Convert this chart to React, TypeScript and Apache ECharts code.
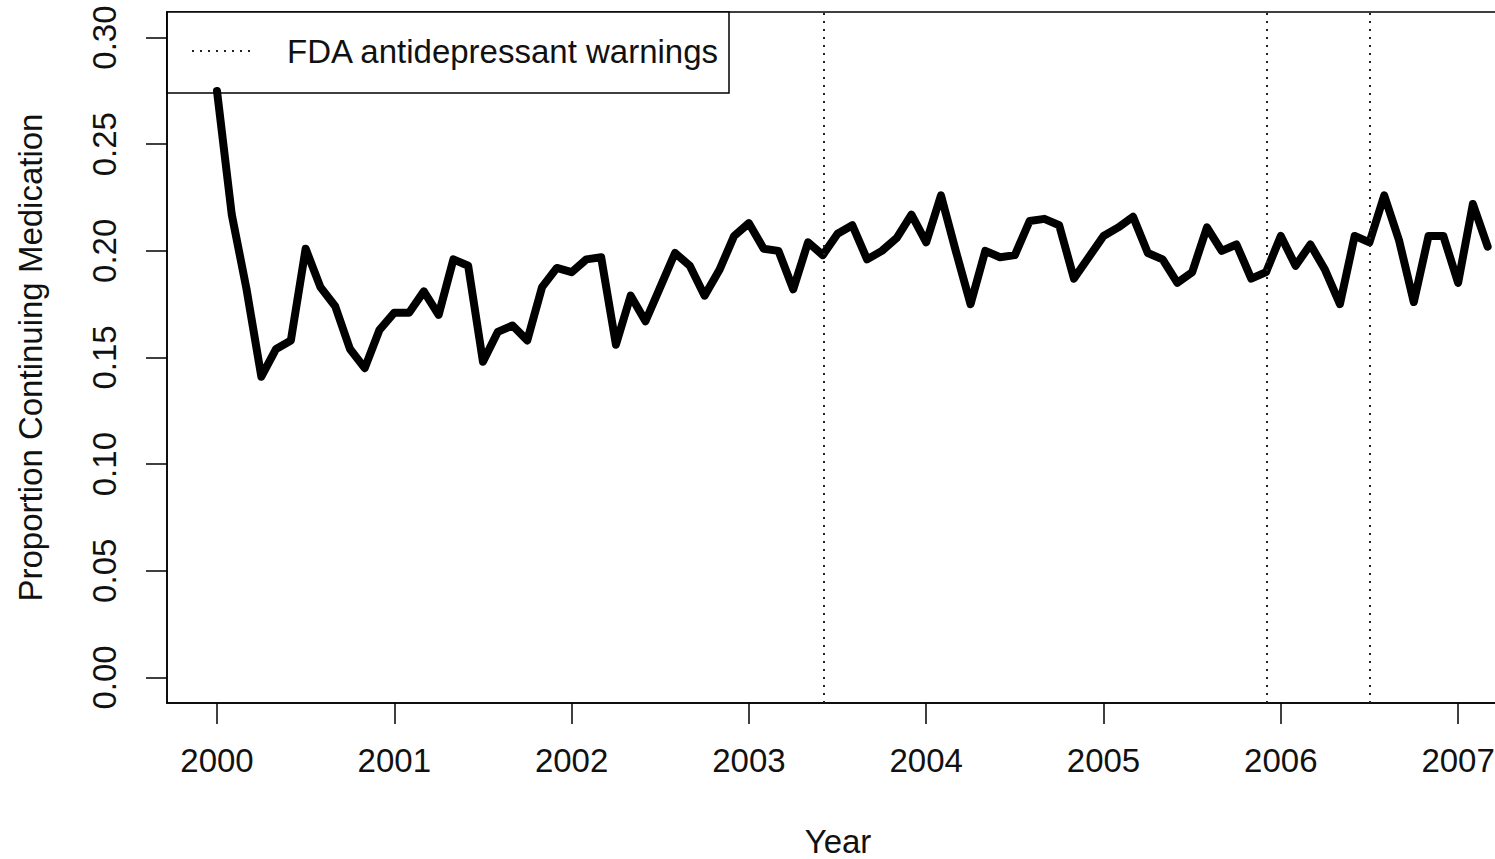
import React, { useEffect, useRef } from "react";
import * as echarts from "echarts";

// Monthly proportion continuing medication, Jan 2000 – Mar 2007
const startYear = 2000;
const proportions: number[] = [
  0.275, 0.217, 0.182, 0.141, 0.154, 0.158, 0.201, 0.183, 0.174, 0.154, 0.145, 0.163,
  0.171, 0.171, 0.181, 0.170, 0.196, 0.193, 0.148, 0.162, 0.165, 0.158, 0.183, 0.192,
  0.190, 0.196, 0.197, 0.156, 0.179, 0.167, 0.183, 0.199, 0.193, 0.179, 0.191, 0.207,
  0.213, 0.201, 0.200, 0.182, 0.204, 0.198, 0.208, 0.212, 0.196, 0.200, 0.206, 0.217,
  0.204, 0.226, 0.200, 0.175, 0.200, 0.197, 0.198, 0.214, 0.215, 0.212, 0.187, 0.197,
  0.207, 0.211, 0.216, 0.199, 0.196, 0.185, 0.190, 0.211, 0.200, 0.203, 0.187, 0.190,
  0.207, 0.193, 0.203, 0.191, 0.175, 0.207, 0.204, 0.226, 0.205, 0.176, 0.207, 0.207,
  0.185, 0.222, 0.202,
];
// FDA antidepressant warnings (decimal years)
const warningDates: number[] = [2003 + 5 / 12, 2005 + 11 / 12, 2006.5];
const xTicks: number[] = [2000, 2001, 2002, 2003, 2004, 2005, 2006, 2007];
const yTicks: number[] = [0, 0.05, 0.1, 0.15, 0.2, 0.25, 0.3];

const FONT = "'Liberation Sans', Arial, Helvetica, sans-serif";

export default function App() {
  const ref = useRef<HTMLDivElement>(null);
  useEffect(() => {
    if (!ref.current) return;
    const chart = echarts.init(ref.current, null, { renderer: "svg" });
    const data = proportions.map((v, i) => [startYear + i / 12, v]);
    chart.setOption({
      animation: false,
      backgroundColor: "#fff",
      textStyle: { fontFamily: FONT },
      grid: {
        left: 167,
        top: 12,
        right: -14,
        bottom: 156,
        containLabel: false,
        outerBoundsMode: "none",
        show: true,
        borderColor: "#000",
        borderWidth: 1.5,
        backgroundColor: "transparent",
      },
      xAxis: {
        type: "value",
        min: 1999.718,
        max: 2007.287,
        name: "Year",
        nameLocation: "middle",
        nameGap: 122,
        nameTextStyle: { fontSize: 33, color: "#111", fontFamily: FONT },
        axisLine: { show: true, onZero: false, lineStyle: { color: "#000", width: 1.5 } },
        axisTick: { show: true, length: 21, customValues: xTicks, lineStyle: { color: "#000", width: 1.5 } },
        axisLabel: {
          customValues: xTicks,
          fontSize: 33,
          color: "#111",
          margin: 41,
          fontFamily: FONT,
          formatter: (v: number) => String(Math.round(v)),
        },
        splitLine: { show: false },
      },
      yAxis: {
        type: "value",
        min: -0.012,
        max: 0.312,
        name: "Proportion Continuing Medication",
        nameLocation: "middle",
        nameRotate: 90,
        nameGap: 120,
        nameTextStyle: { fontSize: 33, color: "#111", fontFamily: FONT },
        axisLine: { show: true, onZero: false, lineStyle: { color: "#000", width: 1.5 } },
        axisTick: { show: true, length: 21, customValues: yTicks, lineStyle: { color: "#000", width: 1.5 } },
        axisLabel: {
          customValues: yTicks,
          rotate: 90,
          fontSize: 33,
          color: "#111",
          margin: 46,
          fontFamily: FONT,
          formatter: (v: number) => v.toFixed(2),
        },
        splitLine: { show: false },
      },
      series: [
        {
          type: "line",
          data,
          showSymbol: false,
          symbol: "none",
          lineStyle: { color: "#000", width: 8, cap: "round", join: "round" },
          markLine: {
            silent: true,
            symbol: "none",
            label: { show: false },
            lineStyle: { color: "#222", width: 2, type: [2, 6] },
            data: warningDates.map((d) => ({ xAxis: d })),
          },
        },
      ],
      graphic: [
        {
          type: "group",
          z: 100,
          children: [
            {
              type: "rect",
              shape: { x: 167, y: 12, width: 562, height: 81 },
              style: { fill: "#fff", stroke: "#000", lineWidth: 1.5 },
            },
            {
              type: "line",
              shape: { x1: 192, y1: 51, x2: 256, y2: 51 },
              style: { stroke: "#222", lineWidth: 2, lineDash: [2, 6] },
            },
            {
              type: "text",
              x: 287,
              y: 51,
              style: {
                text: "FDA antidepressant warnings",
                fontSize: 33,
                fontFamily: FONT,
                fill: "#111",
                verticalAlign: "middle",
                align: "left",
              },
            },
          ],
        },
      ],
    });
    return () => chart.dispose();
  }, []);
  return (
    <div
      ref={ref}
      style={{ position: "fixed", left: 0, top: 0, width: 1495, height: 859, background: "#fff" }}
    />
  );
}
